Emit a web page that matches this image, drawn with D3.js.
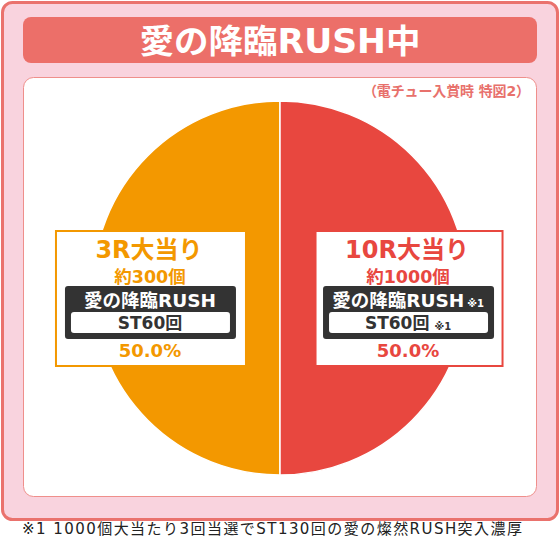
<!DOCTYPE html>
<html><head><meta charset="utf-8">
<script src="https://cdn.jsdelivr.net/npm/d3@7"></script>
<style>
html,body{margin:0;padding:0;background:#fff;}
svg{display:block;font-family:"DejaVu Sans","Noto Sans CJK JP",sans-serif;}
</style></head>
<body>
<svg id="chart" width="560" height="543"></svg>
<script>
// ---- data ----
const titleText = "愛の降臨RUSH中";
const subtitleText = "（電チュー入賞時 特図2）";
const categories = ["3R大当り", "10R大当り"];
const values = [50.0, 50.0];
const payouts = ["約300個", "約1000個"];
const rushNames = ["愛の降臨RUSH", "愛の降臨RUSH"];
const stLabels = ["ST60回", "ST60回"];
const notes = ["", "※1"];
const footnote = "※1 1000個大当たり3回当選でST130回の愛の燦然RUSH突入濃厚";

// ---- styles ----
const sliceColors = ["#f39800", "#e8473f"];
const dark = "#333333";

const svg = d3.select("#chart");

// outer frame
svg.append("rect").attr("x", 2.5).attr("y", 2.5).attr("width", 555).attr("height", 517)
  .attr("rx", 10).attr("fill", "#f9d3de").attr("stroke", "#ea726d").attr("stroke-width", 3);
// title bar
svg.append("rect").attr("x", 23).attr("y", 17).attr("width", 514).attr("height", 46)
  .attr("rx", 8).attr("fill", "#ec6f69");
svg.append("text").attr("x", 280).attr("y", 41).attr("text-anchor", "middle")
  .attr("dominant-baseline", "central").attr("fill", "#fff")
  .attr("font-size", 33).attr("font-weight", 700)
  .attr("textLength", 281).attr("lengthAdjust", "spacingAndGlyphs").text(titleText);
// inner panel
svg.append("rect").attr("x", 23.5).attr("y", 77.5).attr("width", 513).attr("height", 419)
  .attr("rx", 10).attr("fill", "#fff").attr("stroke", "#ef8f8b").attr("stroke-width", 1);
svg.append("text").attr("x", 530).attr("y", 96).attr("text-anchor", "end")
  .attr("fill", "#e8716c").attr("font-size", 14).attr("font-weight", 700)
  .attr("textLength", 167).attr("lengthAdjust", "spacing").text(subtitleText);

// pie
const cx = 280, cy = 288, R = 187;
const pie = d3.pie().sort(null).startAngle(-Math.PI).endAngle(Math.PI);
const arcs = pie(values);
const arc = d3.arc().innerRadius(0).outerRadius(R);
const g = svg.append("g").attr("transform", `translate(${cx},${cy})`);
g.selectAll("path").data(arcs).join("path")
  .attr("d", arc).attr("fill", (d, i) => sliceColors[i])
  .attr("stroke", "#fff").attr("stroke-width", 1.5);

// label boxes
const labelArc = d3.arc().innerRadius(R * 0.69).outerRadius(R * 0.69);
const boxW = [190, 187], boxH = 135;
arcs.forEach((d, i) => {
  const [lx] = labelArc.centroid(d);
  const bx = cx + lx, top = 231;
  const col = sliceColors[i];
  const lg = svg.append("g");
  lg.append("rect").attr("x", bx - boxW[i] / 2).attr("y", top).attr("width", boxW[i]).attr("height", boxH)
    .attr("fill", "#fff").attr("stroke", col).attr("stroke-width", 2);
  lg.append("text").attr("x", bx - 2).attr("y", top + 19).attr("text-anchor", "middle")
    .attr("dominant-baseline", "central").attr("fill", col).attr("font-size", 24).attr("font-weight", 700)
    .text(categories[i]);
  lg.append("text").attr("x", bx - 1).attr("y", top + 46).attr("text-anchor", "middle")
    .attr("dominant-baseline", "central").attr("fill", col).attr("font-size", 17.5).attr("font-weight", 700)
    .text(payouts[i]);
  lg.append("rect").attr("x", bx - 86).attr("y", top + 55).attr("width", 171).attr("height", 53)
    .attr("rx", 3).attr("fill", dark);
  const t1 = lg.append("text").attr("x", bx - 1).attr("y", top + 69).attr("text-anchor", "middle")
    .attr("dominant-baseline", "central").attr("fill", "#fff").attr("font-weight", 700);
  t1.append("tspan").attr("font-size", 18.5).text(rushNames[i]);
  if (notes[i]) t1.append("tspan").attr("font-size", 10).attr("dx", 3).attr("dy", 3).text(notes[i]);
  lg.append("rect").attr("x", bx - 80).attr("y", top + 81).attr("width", 159).attr("height", 21)
    .attr("rx", 3).attr("fill", "#fff");
  const t2 = lg.append("text").attr("x", bx - 1).attr("y", top + 92).attr("text-anchor", "middle")
    .attr("dominant-baseline", "central").attr("fill", dark).attr("font-weight", 700);
  t2.append("tspan").attr("font-size", 17).text(stLabels[i]);
  if (notes[i]) t2.append("tspan").attr("font-size", 10).attr("dx", 5).attr("dy", 3).text(notes[i]);
  lg.append("text").attr("x", bx - 1).attr("y", top + 119).attr("text-anchor", "middle")
    .attr("dominant-baseline", "central").attr("fill", col).attr("font-size", 18).attr("font-weight", 700)
    .text(d3.format(".1f")(d.data) + "%");
});

// footnote
svg.append("text").attr("x", 22).attr("y", 534).attr("fill", "#222")
  .attr("font-size", 15).attr("textLength", 500).attr("lengthAdjust", "spacing").text(footnote);
</script>
</body></html>
